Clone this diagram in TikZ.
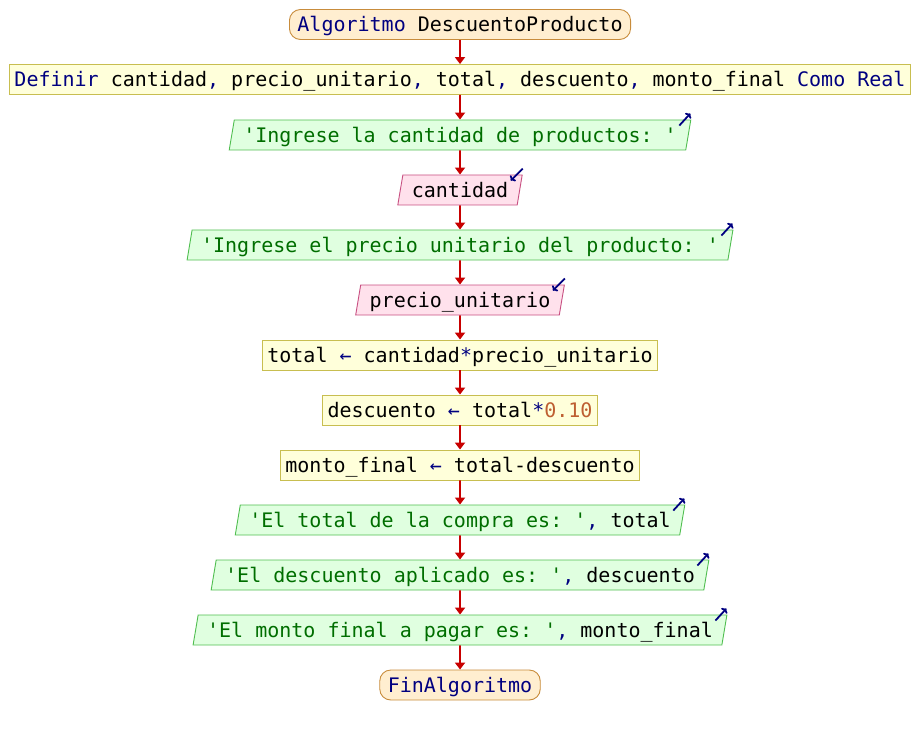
\documentclass[tikz,border=0pt]{standalone}
\usepackage{fontspec}
\setmonofont{DejaVu Sans Mono}
\usetikzlibrary{shapes.geometric,arrows.meta}

\definecolor{kw}{RGB}{0,0,128}
\definecolor{strc}{RGB}{0,110,0}
\definecolor{numc}{RGB}{190,95,50}
\definecolor{flow}{RGB}{200,0,0}
\definecolor{termfill}{RGB}{255,238,208}
\definecolor{termdraw}{RGB}{200,140,60}
\definecolor{procfill}{RGB}{255,255,218}
\definecolor{procdraw}{RGB}{200,190,80}
\definecolor{outfill}{RGB}{224,255,224}
\definecolor{outdraw}{RGB}{80,190,80}
\definecolor{infill}{RGB}{255,225,236}
\definecolor{indraw}{RGB}{200,80,130}

\newcommand{\K}[1]{\textcolor{kw}{#1}}
\newcommand{\Str}[1]{\textcolor{strc}{#1}}
\newcommand{\Num}[1]{\textcolor{numc}{#1}}
% assignment arrow, one character cell wide with a space on each side
\newcommand{\asg}{\ \textcolor{kw}{←}\ }

\tikzset{
  base/.style={font=\ttfamily\fontsize{20}{24}\selectfont, text height=14.6pt,
    text depth=0pt, minimum height=30pt, inner ysep=0pt, line width=0.9pt},
  term/.style={base, rectangle, rounded corners=11pt, fill=termfill, draw=termdraw, inner xsep=8pt},
  proc/.style={base, rectangle, fill=procfill, draw=procdraw, inner xsep=5pt},
  iobox/.style={base, trapezium, trapezium left angle=71, trapezium right angle=109,
    trapezium stretches body, inner xsep=9pt},
  outbox/.style={iobox, fill=outfill, draw=outdraw},
  inbox/.style={iobox, fill=infill, draw=indraw},
  flowarrow/.style={draw=flow, line width=1.8pt, -{Triangle[width=10pt,length=7pt]}},
  ioarrow/.style={draw=kw, line width=1.8pt, -{To[length=4pt,width=8pt]}},
}

\begin{document}
\begin{tikzpicture}[x=1pt,y=-1pt]
\useasboundingbox (0,0) rectangle (920,735);

\node[term]   (start) at (460,24.5) {\K{Algoritmo} DescuentoProducto};
\node[proc]   (def)   at (460,79.5) {\K{Definir} cantidad\K{,} precio\_unitario\K{,} total\K{,} descuento\K{,} monto\_final \K{Como Real}};
\node[outbox] (o1)    at (460,135) {\Str{'Ingrese la cantidad de productos: '}};
\node[inbox]  (i1)    at (460,190) {cantidad};
\node[outbox] (o2)    at (460,245) {\Str{'Ingrese el precio unitario del producto: '}};
\node[inbox]  (i2)    at (460,300) {precio\_unitario};
\node[proc]   (p1)    at (460,355) {total\asg cantidad\K{*}precio\_unitario};
\node[proc]   (p2)    at (460,410) {descuento\asg total\K{*}\Num{0.10}};
\node[proc]   (p3)    at (460,465) {monto\_final\asg total-descuento};
\node[outbox] (o3)    at (460,520) {\Str{'El total de la compra es: '}\K{,} total};
\node[outbox] (o4)    at (460,575) {\Str{'El descuento aplicado es: '}\K{,} descuento};
\node[outbox] (o5)    at (460,630) {\Str{'El monto final a pagar es: '}\K{,} monto\_final};
\node[term]   (fin)   at (460,685) {\K{FinAlgoritmo}};

% flow connectors
\foreach \a/\b in {start/def, def/o1, o1/i1, i1/o2, o2/i2, i2/p1, p1/p2, p2/p3, p3/o3, o3/o4, o4/o5, o5/fin}
  \draw[flowarrow] (\a.south) -- (\b.north);

% output markers (arrow leaving the top right corner)
\foreach \n in {o1, o2, o3, o4, o5}
  \draw[ioarrow] ([xshift=-12pt,yshift=-6pt]\n.top right corner) -- ([xshift=-1pt,yshift=6pt]\n.top right corner);

% input markers (arrow entering the top right corner)
\foreach \n in {i1, i2}
  \draw[ioarrow] ([xshift=0pt,yshift=6pt]\n.top right corner) -- ([xshift=-12pt,yshift=-6pt]\n.top right corner);
\end{tikzpicture}
\end{document}
